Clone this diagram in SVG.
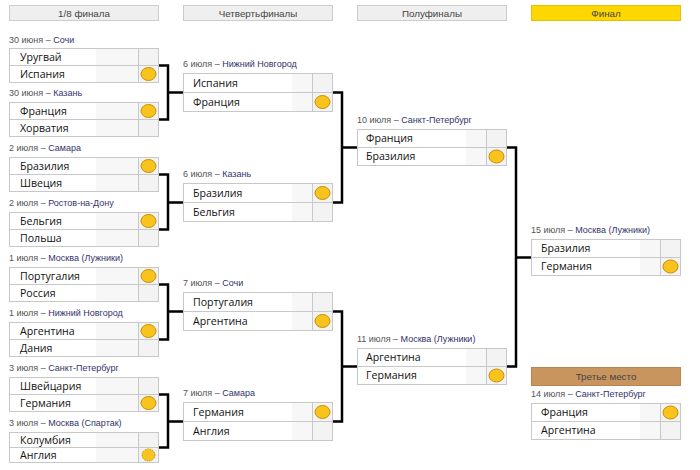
<svg xmlns="http://www.w3.org/2000/svg" xmlns:xlink="http://www.w3.org/1999/xlink" width="700" height="470" viewBox="0 0 700 470">
<style>
.bg{fill:#fff}
.hdr{fill:#efefef;stroke:#cccccc;stroke-width:1}
.hdr-final{fill:#ffd700;stroke:#e3c000;stroke-width:1}
.hdr-third{fill:#c9955f;stroke:#b8844f;stroke-width:1}
.hdrt{font-family:"Liberation Sans",Arial,sans-serif;font-size:9.8px;fill:#444;text-anchor:middle}
.cell{fill:#f7f7f7;stroke:#c8c8c8;stroke-width:1}
.sc{fill:#f3f3f3;stroke:#c8c8c8;stroke-width:1}
.hi{fill:#ffffff}
.team{font-family:"Open Sans","Noto Sans",sans-serif;font-size:10.6px;fill:#111}
.date{font-family:"Liberation Sans",Arial,sans-serif;font-size:9px;fill:#555}
.city{fill:#33336b}
.win{fill:#f8c31c;stroke:#c98e00;stroke-width:1}
.win-d{fill:#f8c31c;stroke:#c98e00;stroke-width:1;stroke-dasharray:1.5 1}
.conn{fill:none;stroke:#000;stroke-width:2.5}
</style>
<defs>
<g id="box17">
<rect class="cell" x="0.5" y="0.5" width="129" height="17"/>
<rect class="hi" x="1" y="1" width="86" height="16"/>
<rect class="sc" x="129.5" y="0.5" width="20" height="17"/>
<rect class="cell" x="0.5" y="17.5" width="129" height="17"/>
<rect class="hi" x="1" y="18" width="86" height="16"/>
<rect class="sc" x="129.5" y="17.5" width="20" height="17"/>
</g>
<g id="box15">
<rect class="cell" x="0.5" y="0.5" width="129" height="15"/>
<rect class="hi" x="1" y="1" width="86" height="14"/>
<rect class="sc" x="129.5" y="0.5" width="20" height="15"/>
<rect class="cell" x="0.5" y="15.5" width="129" height="15"/>
<rect class="hi" x="1" y="16" width="86" height="14"/>
<rect class="sc" x="129.5" y="15.5" width="20" height="15"/>
</g>
<g id="box19">
<rect class="cell" x="0.5" y="0.5" width="129" height="19"/>
<rect class="hi" x="1" y="1" width="108" height="18"/>
<rect class="sc" x="129.5" y="0.5" width="20" height="19"/>
<rect class="cell" x="0.5" y="19.5" width="129" height="19"/>
<rect class="hi" x="1" y="20" width="108" height="18"/>
<rect class="sc" x="129.5" y="19.5" width="20" height="19"/>
</g>
<g id="box18">
<rect class="cell" x="0.5" y="0.5" width="129" height="18"/>
<rect class="hi" x="1" y="1" width="108" height="17"/>
<rect class="sc" x="129.5" y="0.5" width="20" height="18"/>
<rect class="cell" x="0.5" y="18.5" width="129" height="18"/>
<rect class="hi" x="1" y="19" width="108" height="17"/>
<rect class="sc" x="129.5" y="18.5" width="20" height="18"/>
</g>
</defs>
<rect class="bg" x="0" y="0" width="700" height="470"/>

<g id="headers">
<g id="hdr-r16"><rect class="hdr" x="9.5" y="5.5" width="149" height="15"/><text class="hdrt" x="84" y="16.5">1/8 финала</text></g>
<g id="hdr-qf"><rect class="hdr" x="183.5" y="5.5" width="149" height="15"/><text class="hdrt" x="258" y="16.5">Четвертьфиналы</text></g>
<g id="hdr-sf"><rect class="hdr" x="357.5" y="5.5" width="149" height="15"/><text class="hdrt" x="432" y="16.5">Полуфиналы</text></g>
<g id="hdr-final"><rect class="hdr-final" x="531.5" y="5.5" width="149" height="15"/><text class="hdrt" x="606" y="16.5">Финал</text></g>
</g>

<g id="connectors">
<path class="conn" d="M158 65.5 H168 V119.5 H158 M168 92.5 H183"/>
<path class="conn" d="M158 174.5 H168 V229.5 H158 M168 202.5 H183"/>
<path class="conn" d="M158 284.5 H168 V339.5 H158 M168 311.5 H183"/>
<path class="conn" d="M158 394.5 H168 V447.5 H158 M168 421.5 H183"/>
<path class="conn" d="M332 92.5 H342 V202.5 H332 M342 147.5 H357"/>
<path class="conn" d="M332 311.5 H342 V421.5 H332 M342 366.5 H357"/>
<path class="conn" d="M506 147.5 H516 V366.5 H506 M516 257.5 H531"/>
</g>

<g id="r16-1">
<text class="date" x="9" y="43">30 июня – <tspan class="city">Сочи</tspan></text>
<use xlink:href="#box17" href="#box17" x="9" y="48"/>
<text class="team" x="20" y="61">Уругвай</text>
<text class="team" x="20" y="78">Испания</text>
<ellipse class="win" cx="148.5" cy="74" rx="7.5" ry="6.5"/>
</g>
<g id="r16-2">
<text class="date" x="9" y="96">30 июня – <tspan class="city">Казань</tspan></text>
<use xlink:href="#box17" href="#box17" x="9" y="102"/>
<text class="team" x="20" y="115">Франция</text>
<text class="team" x="20" y="132">Хорватия</text>
<ellipse class="win" cx="148.5" cy="111" rx="7.5" ry="6.5"/>
</g>
<g id="r16-3">
<text class="date" x="9" y="151">2 июля – <tspan class="city">Самара</tspan></text>
<use xlink:href="#box17" href="#box17" x="9" y="157"/>
<text class="team" x="20" y="170">Бразилия</text>
<text class="team" x="20" y="187">Швеция</text>
<ellipse class="win" cx="148.5" cy="166" rx="7.5" ry="6.5"/>
</g>
<g id="r16-4">
<text class="date" x="9" y="206">2 июля – <tspan class="city">Ростов-на-Дону</tspan></text>
<use xlink:href="#box17" href="#box17" x="9" y="212"/>
<text class="team" x="20" y="225">Бельгия</text>
<text class="team" x="20" y="242">Польша</text>
<ellipse class="win" cx="148.5" cy="221" rx="7.5" ry="6.5"/>
</g>
<g id="r16-5">
<text class="date" x="9" y="261">1 июля – <tspan class="city">Москва (Лужники)</tspan></text>
<use xlink:href="#box17" href="#box17" x="9" y="267"/>
<text class="team" x="20" y="280">Португалия</text>
<text class="team" x="20" y="297">Россия</text>
<ellipse class="win" cx="148.5" cy="276" rx="7.5" ry="6.5"/>
</g>
<g id="r16-6">
<text class="date" x="9" y="316">1 июля – <tspan class="city">Нижний Новгород</tspan></text>
<use xlink:href="#box17" href="#box17" x="9" y="322"/>
<text class="team" x="20" y="335">Аргентина</text>
<text class="team" x="20" y="352">Дания</text>
<ellipse class="win" cx="148.5" cy="331" rx="7.5" ry="6.5"/>
</g>
<g id="r16-7">
<text class="date" x="9" y="371">3 июля – <tspan class="city">Санкт-Петербург</tspan></text>
<use xlink:href="#box17" href="#box17" x="9" y="377"/>
<text class="team" x="20" y="390">Швейцария</text>
<text class="team" x="20" y="407">Германия</text>
<ellipse class="win" cx="148.5" cy="403" rx="7.5" ry="6.5"/>
</g>
<g id="r16-8">
<text class="date" x="9" y="426">3 июля – <tspan class="city">Москва (Спартак)</tspan></text>
<use xlink:href="#box15" href="#box15" x="9" y="432"/>
<text class="team" x="20" y="444">Колумбия</text>
<text class="team" x="20" y="459">Англия</text>
<ellipse class="win-d" cx="148.5" cy="455" rx="6.5" ry="6"/>
</g>

<g id="qf-1">
<text class="date" x="183" y="67">6 июля – <tspan class="city">Нижний Новгород</tspan></text>
<use xlink:href="#box19" href="#box19" x="183" y="73"/>
<text class="team" x="193" y="87">Испания</text>
<text class="team" x="193" y="106">Франция</text>
<ellipse class="win" cx="322.5" cy="102" rx="7.5" ry="6.5"/>
</g>
<g id="qf-2">
<text class="date" x="183" y="177">6 июля – <tspan class="city">Казань</tspan></text>
<use xlink:href="#box19" href="#box19" x="183" y="183"/>
<text class="team" x="193" y="197">Бразилия</text>
<text class="team" x="193" y="216">Бельгия</text>
<ellipse class="win" cx="322.5" cy="193" rx="7.5" ry="6.5"/>
</g>
<g id="qf-3">
<text class="date" x="183" y="286">7 июля – <tspan class="city">Сочи</tspan></text>
<use xlink:href="#box19" href="#box19" x="183" y="292"/>
<text class="team" x="193" y="306">Португалия</text>
<text class="team" x="193" y="325">Аргентина</text>
<ellipse class="win" cx="322.5" cy="321" rx="7.5" ry="6.5"/>
</g>
<g id="qf-4">
<text class="date" x="183" y="396">7 июля – <tspan class="city">Самара</tspan></text>
<use xlink:href="#box19" href="#box19" x="183" y="402"/>
<text class="team" x="193" y="416">Германия</text>
<text class="team" x="193" y="435">Англия</text>
<ellipse class="win" cx="322.5" cy="412" rx="7.5" ry="6.5"/>
</g>

<g id="sf-1">
<text class="date" x="357" y="123">10 июля – <tspan class="city">Санкт-Петербург</tspan></text>
<use xlink:href="#box18" href="#box18" x="357" y="129"/>
<text class="team" x="366" y="142">Франция</text>
<text class="team" x="366" y="160">Бразилия</text>
<ellipse class="win" cx="496.5" cy="156.5" rx="7.5" ry="6.5"/>
</g>
<g id="sf-2">
<text class="date" x="357" y="342">11 июля – <tspan class="city">Москва (Лужники)</tspan></text>
<use xlink:href="#box18" href="#box18" x="357" y="348"/>
<text class="team" x="366" y="361">Аргентина</text>
<text class="team" x="366" y="379">Германия</text>
<ellipse class="win" cx="496.5" cy="375.5" rx="7.5" ry="6.5"/>
</g>

<g id="final">
<text class="date" x="531" y="233">15 июля – <tspan class="city">Москва (Лужники)</tspan></text>
<use xlink:href="#box18" href="#box18" x="531" y="239"/>
<text class="team" x="541" y="252">Бразилия</text>
<text class="team" x="541" y="270">Германия</text>
<ellipse class="win" cx="670.5" cy="266.5" rx="7.5" ry="6.5"/>
</g>

<g id="hdr-third"><rect class="hdr-third" x="531.5" y="367.5" width="149" height="18"/><text class="hdrt" x="606" y="380">Третье место</text></g>

<g id="third">
<text class="date" x="531" y="397">14 июля – <tspan class="city">Санкт-Петербург</tspan></text>
<use xlink:href="#box18" href="#box18" x="531" y="403"/>
<text class="team" x="541" y="416">Франция</text>
<text class="team" x="541" y="434">Аргентина</text>
<ellipse class="win" cx="670.5" cy="412.5" rx="7.5" ry="6.5"/>
</g>
</svg>
